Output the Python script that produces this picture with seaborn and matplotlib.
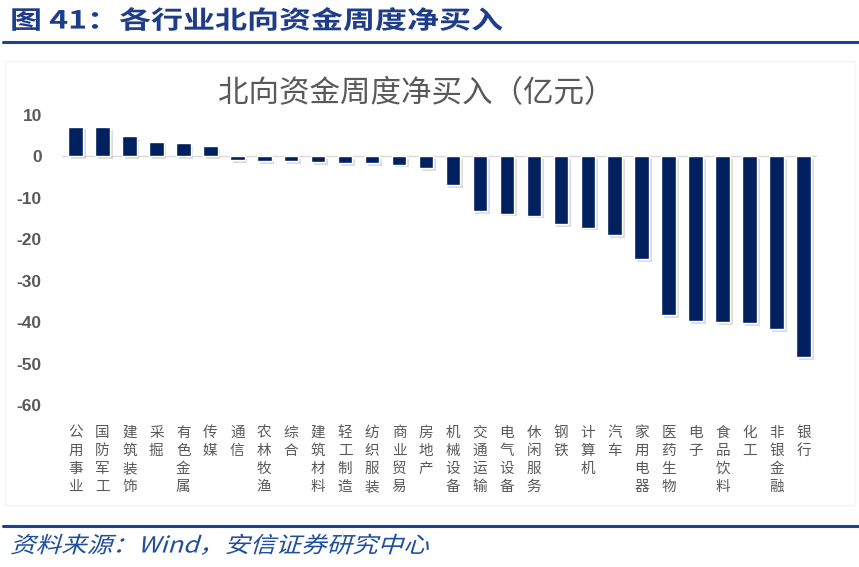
import matplotlib
matplotlib.use("Agg")
import matplotlib.pyplot as plt
import matplotlib.patheffects as pe
from matplotlib.transforms import Affine2D
import seaborn as sns
import pandas as pd

categories = ["公用事业", "国防军工", "建筑装饰", "采掘", "有色金属", "传媒", "通信", "农林牧渔",
              "综合", "建筑材料", "轻工制造", "纺织服装", "商业贸易", "房地产", "机械设备",
              "交通运输", "电气设备", "休闲服务", "钢铁", "计算机", "汽车", "家用电器",
              "医药生物", "电子", "食品饮料", "化工", "非银金融", "银行"]
values = [7.2, 7.0, 4.9, 3.6, 3.3, 2.5, -0.9, -1.1, -1.1, -1.3, -1.6, -1.6, -2.0, -2.9,
          -6.9, -13.2, -13.8, -14.3, -16.4, -17.2, -19.0, -24.7, -38.3, -39.7, -40.0,
          -40.2, -41.6, -48.4]
yticks = [10, 0, -10, -20, -30, -40, -50, -60]


class GlyphTransform(pe.AbstractPathEffect):
    """Stretch / slant text glyphs (keeps the text as real text)."""
    def __init__(self, sx=1.0, skew=0.0):
        super().__init__()
        self._t = Affine2D().skew_deg(skew, 0).scale(sx, 1)

    def draw_path(self, renderer, gc, tpath, affine, rgbFace=None):
        renderer.draw_path(gc, tpath, self._t + affine, rgbFace)


sns.set_theme(style="white")
plt.rcParams['font.family'] = ['Noto Sans CJK SC', 'DejaVu Sans']

df = pd.DataFrame({"行业": categories, "净买入": values})

fig = plt.figure(figsize=(8.59, 5.67), dpi=100)
ax = fig.add_axes([62/859, 1-405/567, (817-62)/859, (405-115)/567])

sns.barplot(data=df, x="行业", y="净买入", color="#002060", width=0.54,
            saturation=1, ax=ax, zorder=3)
for p in ax.patches:
    p.set_path_effects([pe.withSimplePatchShadow(offset=(2, -2), shadow_rgbFace="#8c8c8c", alpha=0.3),
                        pe.Normal()])

ax.set_ylim(-60, 10)
ax.set_xlim(-0.5, len(categories) - 0.5)
ax.set_yticks(yticks)
ax.set_yticklabels([str(v) for v in yticks], fontsize=12.5, fontweight="bold",
                   color="#595959", family=["Liberation Sans", "DejaVu Sans"])
ax.set_xticks(range(len(categories)))
ax.set_xticklabels(["\n".join(list(c)) for c in categories], fontsize=10.5, color="#595959",
                   linespacing=1.36, va="top")
ax.tick_params(axis="x", length=0, pad=15)
ax.tick_params(axis="y", length=0, pad=14.5)
ax.axhline(0, color="#D9D9D9", lw=1, zorder=2)
for s in ax.spines.values():
    s.set_visible(False)
ax.set_xlabel("")
ax.set_ylabel("")
ax.set_facecolor("none")

# chart title
fig.text(416/859, 1-94/567, "北向资金周度净买入（亿元）", ha="center", va="center",
         fontsize=22, color="#595959")

# header
fig.text(10/859, 1-21.5/567, "图 41：各行业北向资金周度净买入", ha="left", va="center",
         fontsize=18, fontweight="bold", color="#1F3C88",
         path_effects=[GlyphTransform(sx=1.28)])
fig.add_artist(plt.Line2D([3/859, 1], [1-42/567, 1-42/567], color="#1F3F99", lw=2.2))

# faint chart frame
fig.add_artist(plt.Rectangle((5/859, 1-505/567), 850/859, (505-61)/567, fill=False,
                             edgecolor="#F4F4F4", lw=1))

# footer
fig.add_artist(plt.Line2D([3/859, 1], [1-526/567, 1-526/567], color="#1F3F99", lw=2.2))
fig.text(10/859, 1-546/567, "资料来源：Wind，安信证券研究中心", ha="left", va="center",
         fontsize=16, color="#1F4E9C",
         path_effects=[GlyphTransform(sx=1.15, skew=15)])

fig.savefig("out.png", dpi=100)
